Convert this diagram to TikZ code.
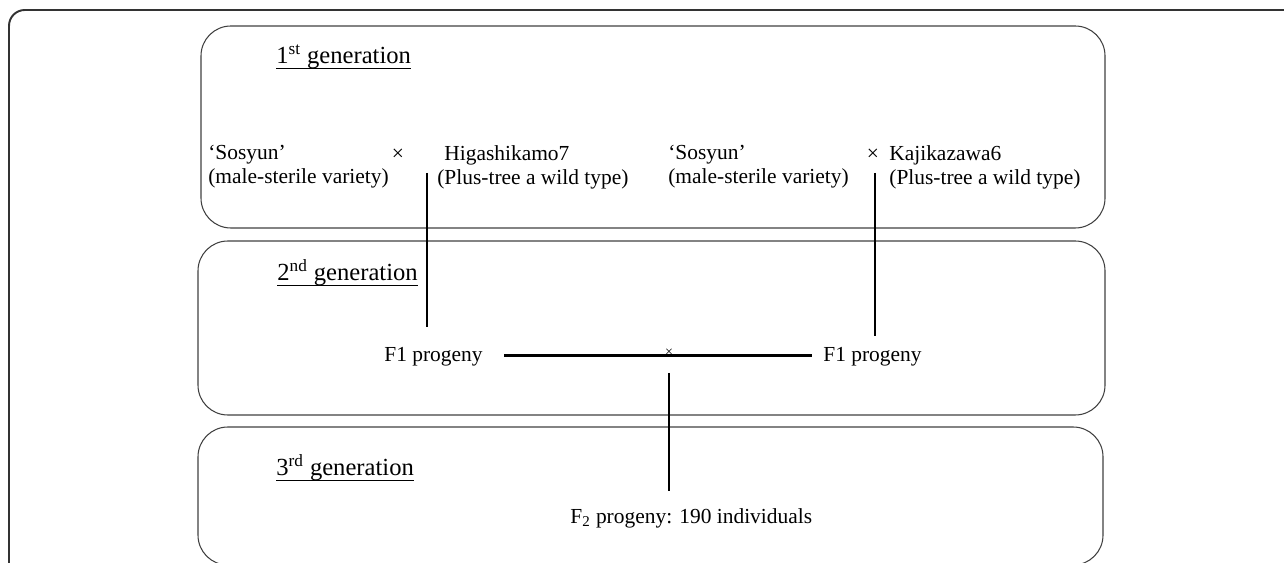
\documentclass[tikz,border=0pt]{standalone}
\usepackage{fontspec}
\setmainfont{Liberation Serif}
\usepackage{tikz}

\tikzset{
  genbox/.style={draw=black!75, line width=0.6pt, rounded corners=17pt},
  head/.style={anchor=base west, inner sep=0pt, font=\fontsize{14}{16}\selectfont},
  line/.style={anchor=west, inner sep=0pt, align=left, font=\fontsize{12.2}{13.7}\selectfont},
  cross/.style={inner sep=1pt, font=\fontsize{12.2}{13.7}\selectfont},
  link/.style={line width=1.6pt}
}

\begin{document}
\begin{tikzpicture}[x=0.02cm, y=-0.02cm]
		\clip (0,0) rectangle (1284,563);

		% frame and the three generations
		\draw[line width=1.1pt, draw=black!80, rounded corners=9pt] (9,600) -- (9,10) -- (1300,10);
		\draw[genbox] (201,26) rectangle (1105,228);
		\draw[genbox] (198,241) rectangle (1105,415);
		\draw[genbox] (198,427) rectangle (1103,565);

		\node[head] (g1) at (276,64) {1\textsuperscript{st} generation};
		\node[head] (g2) at (277,281) {2\textsuperscript{nd} generation};
		\node[head] (g3) at (276,476) {3\textsuperscript{rd} generation};
		\foreach \g in {g1,g2,g3}
			\draw[line width=0.8pt] ([yshift=-2.4pt]\g.base west) -- ([yshift=-2.4pt]\g.base east);

		\node[line] (ms1) at (208,167) {‘Sosyun’\\(male-sterile variety)};
		\node[cross] (x1) at (398,155) {×};
		\node[line] (h7) at (437,167) {\hspace{4pt}Higashikamo7\\(Plus-tree a wild type)};
		\node[line] (ms2) at (668,167) {‘Sosyun’\\(male-sterile variety)};
		\node[cross] (x2) at (873,155) {×};
		\node[line] (k6) at (889,167) {Kajikazawa6\\(Plus-tree a wild type)};

		\node[line, anchor=base west] (f1a) at (384,362) {F1 progeny};
		\node[line, anchor=base west] (f1b) at (823,362) {F1 progeny};
		\node[cross, font=\fontsize{8}{9}\selectfont] (x3) at (669,353) {×};
		\node[line, anchor=base west] (f2) at (570,523) {F\textsubscript{2} progeny: 190 individuals};

		\coordinate (p1) at (427,173);
		\coordinate (p2) at (875,173);

		\path [link] (p1) edge[shorten >=11.7pt] (p1 |- f1a.north);
		\path [link] (p2) edge[shorten >=6.5pt] (p2 |- f1b.north);
		\path [link] ([yshift=1pt]f1a.east) edge[shorten <=12pt, shorten >=6.3pt] ([yshift=1pt]f1b.west);
		\path [link] (x3.south) edge[shorten <=8pt, shorten >=9.7pt] (x3.south |- f2.north);
	\end{tikzpicture}
\end{document}
